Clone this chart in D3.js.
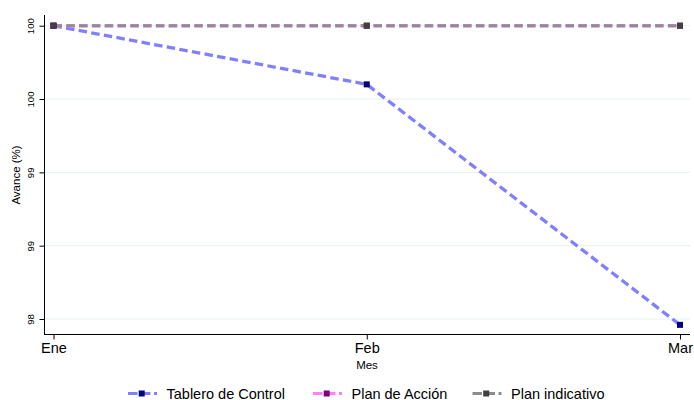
<!DOCTYPE html>
<html>
<head>
<meta charset="utf-8">
<script src="https://cdn.jsdelivr.net/npm/d3@7"></script>
<style>
  body { margin: 0; background: #fff; }
  svg { display: block; font-family: "Liberation Sans", Arial, sans-serif; }
</style>
</head>
<body>
<svg id="chart" width="694" height="400"></svg>
<script>
const months = ["Ene", "Feb", "Mar"];
const tablero = [100, 99.6, 97.96];
const planAccion = [100, 100, 100];
const planIndicativo = [100, 100, 100];
const yTickValues = [100, 99.5, 99, 98.5, 98];
const yTickLabels = ["100", "100", "99", "99", "98"];
const seriesNames = ["Tablero de Control", "Plan de Acción", "Plan indicativo"];

const svg = d3.select("#chart");
const plot = { left: 44.5, right: 690, top: 15, bottom: 334.5 };

const x = d3.scalePoint().domain(months).range([53.5, 680]);
const y = d3.scaleLinear().domain([98, 100]).range([319, 25.7]);

// grid
svg.append("g").selectAll("line").data(yTickValues).join("line")
  .attr("x1", plot.left).attr("x2", plot.right)
  .attr("y1", d => y(d)).attr("y2", d => y(d))
  .attr("stroke", "#e8f0f1").attr("stroke-width", 1);

// y axis
const yAxis = d3.axisLeft(y).tickValues(yTickValues).tickSize(5)
  .tickFormat((d, i) => yTickLabels[i]);
const gy = svg.append("g").attr("transform", `translate(${plot.left},0)`).call(yAxis);
gy.select(".domain").remove();
gy.append("line").attr("x1", 0).attr("x2", 0).attr("y1", plot.top).attr("y2", plot.bottom)
  .attr("stroke", "#000").attr("stroke-width", 1);
gy.selectAll(".tick line").attr("stroke", "#000");
gy.selectAll(".tick text")
  .attr("font-size", 9.6).attr("fill", "#000")
  .attr("x", 0).attr("dy", 0)
  .attr("transform", "translate(-11,0) rotate(-90)")
  .attr("text-anchor", "middle")
  .attr("dominant-baseline", "auto");

// x axis
const xAxis = d3.axisBottom(x).tickSize(5).tickPadding(3);
const gx = svg.append("g").attr("transform", `translate(0,${plot.bottom})`).call(xAxis);
gx.select(".domain").remove();
gx.append("line").attr("x1", plot.left - 0.5).attr("x2", plot.right).attr("y1", 0).attr("y2", 0)
  .attr("stroke", "#000").attr("stroke-width", 1);
gx.selectAll(".tick line").attr("stroke", "#000");
gx.selectAll(".tick text").attr("font-size", 14.5).attr("fill", "#000");

// axis titles
svg.append("text").attr("x", 367).attr("y", 368.5).attr("text-anchor", "middle")
  .attr("font-size", 11.5).text("Mes");
svg.append("text").attr("transform", "translate(20,175) rotate(-90)")
  .attr("text-anchor", "middle").attr("font-size", 11.5).text("Avance (%)");

// series
const series = [
  { name: seriesNames[0], values: tablero, line: "#8080ff", marker: "#000080", width: 3.3, opacity: 1 },
  { name: seriesNames[1], values: planAccion, line: "#ff80ff", marker: "#800080", width: 3.6, opacity: 1 },
  { name: seriesNames[2], values: planIndicativo, line: "#8c8c8c", marker: "#404040", width: 3.0, opacity: 0.95 }
];
const dash = "8.5,4.3";
const lineGen = d3.line().x((d, i) => x(months[i])).y(d => y(d));
const ms = 6;

series.forEach(s => {
  svg.append("path").datum(s.values)
    .attr("d", lineGen).attr("fill", "none")
    .attr("stroke", s.line).attr("stroke-width", s.width)
    .attr("stroke-dasharray", dash).attr("stroke-opacity", s.opacity);
});
series.forEach(s => {
  svg.append("g").selectAll("rect").data(s.values).join("rect")
    .attr("x", (d, i) => x(months[i]) - ms / 2)
    .attr("y", d => y(d) - ms / 2)
    .attr("width", ms).attr("height", ms)
    .attr("fill", s.marker);
});

// legend
const legendPos = [128, 313, 472.5];
const legendY = 393.5;
series.forEach((s, i) => {
  const g = svg.append("g").attr("transform", `translate(${legendPos[i]},${legendY})`);
  g.append("line").attr("x1", 0).attr("x2", 29).attr("y1", 0).attr("y2", 0)
    .attr("stroke", s.line).attr("stroke-width", 3).attr("stroke-dasharray", "9.5,3.5");
  g.append("rect").attr("x", 13.7 - ms / 2).attr("y", -ms / 2).attr("width", ms).attr("height", ms)
    .attr("fill", s.marker);
  g.append("text").attr("x", 38.5).attr("y", 5).attr("font-size", 14.5).attr("fill", "#000").text(s.name);
});
</script>
</body>
</html>
